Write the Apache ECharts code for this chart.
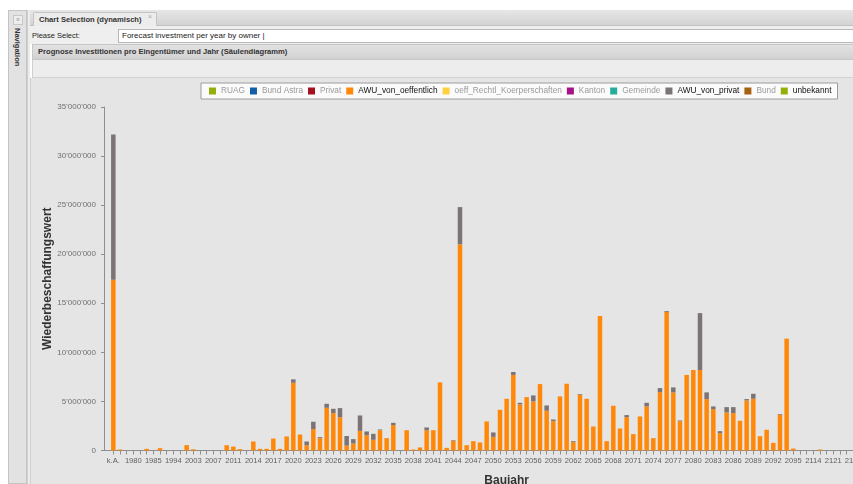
<!DOCTYPE html>
<html><head><meta charset="utf-8">
<script src="https://cdn.jsdelivr.net/npm/echarts@6/dist/echarts.min.js"></script>
<style>
html,body{margin:0;padding:0;width:853px;height:484px;overflow:hidden;background:#fff;font-family:'Liberation Sans',Arial,sans-serif;}
.a{position:absolute;box-sizing:border-box;}
#nav{left:8px;top:10px;width:19px;height:474px;background:#e2e2e2;border:1px solid #c4c4c4;}
#navbtn{left:13px;top:15px;width:10px;height:10px;background:#ededed;border:1px solid #c8c8c8;font-size:7px;line-height:8px;color:#999;text-align:center;}
#navtxt{left:13px;top:28px;writing-mode:vertical-rl;font-size:7.5px;font-weight:bold;color:#333;}
#split{left:27px;top:10px;width:3px;height:474px;background:#ececec;border-left:1px solid #cfcfcf;}
#tabbar{left:30px;top:10px;width:823px;height:16px;background:linear-gradient(#e6e6e6,#d3d3d3);border-bottom:1px solid #c0c0c0;}
#tab{left:33px;top:12px;width:124px;height:14px;background:#ececec;border:1px solid #c4c4c4;border-bottom:none;border-radius:2px 2px 0 0;font-size:7.6px;font-weight:bold;color:#333;line-height:13px;padding-left:5px;}
#tabx{left:148px;top:13px;font-size:7px;color:#aaa;}
#form{left:30px;top:26px;width:823px;height:18px;background:#efefef;}
#lbl{left:32px;top:31px;font-size:7.5px;color:#222;}
#inp{left:118px;top:29px;width:745px;height:14px;background:#fff;border:1px solid #b8b8b8;font-size:8px;color:#222;line-height:12px;padding-left:3px;}
#hdr{left:32px;top:44px;width:823px;height:16px;background:linear-gradient(#e2e2e2,#d2d2d2);border:1px solid #c6c6c6;font-size:7.6px;font-weight:bold;color:#333;line-height:14px;padding-left:5px;}
#tb{left:32px;top:60px;width:823px;height:18px;background:#ededed;border-bottom:1px solid #d2d2d2;border-left:1px solid #d0d0d0;}
#body{left:30px;top:78px;width:823px;height:406px;background:#e5e5e5;border-left:1px solid #cfcfcf;}
#chart{position:absolute;left:0;top:0;width:853px;height:484px;}
</style></head>
<body>
<div class="a" id="nav"></div>
<div class="a" id="navbtn">»</div>
<div class="a" id="navtxt">Navigation</div>
<div class="a" id="split"></div>
<div class="a" id="tabbar"></div>
<div class="a" id="tab">Chart Selection (dynamisch)</div>
<div class="a" id="tabx">×</div>
<div class="a" id="form"></div>
<div class="a" id="lbl">Please Select:</div>
<div class="a" id="inp">Forecast investment per year by owner |</div>
<div class="a" id="hdr">Prognose Investitionen pro Eingentümer und Jahr (Säulendiagramm)</div>
<div class="a" id="tb"></div>
<div class="a" id="body"></div>
<div id="chart"></div>
<script>
const categories = ['k.A.','1970','1975','1980','1982','1983','1985','1988','1990','1994',
 '1998','2000','2003','2004','2005','2007','2009','2010','2011','2012',
 '2013','2014','2015','2016','2017','2018','2019','2020','2021','2022',
 '2023','2024','2025','2026','2027','2028','2029','2030','2031','2032',
 '2033','2034','2035','2036','2037','2038','2039','2040','2041','2042',
 '2043','2044','2045','2046','2047','2048','2049','2050','2051','2052',
 '2053','2054','2055','2056','2057','2058','2059','2060','2061','2062',
 '2063','2064','2065','2066','2067','2068','2069','2070','2071','2072',
 '2073','2074','2075','2076','2077','2078','2079','2080','2081','2082',
 '2083','2084','2085','2086','2087','2088','2089','2090','2091','2092',
 '2093','2094','2095','2100','2110','2114','2115','2118','2121','2122',
 '2123','2125','2126','2128','2130','2132','2135','2140','2150'];

// values in millions CHF
const awuOeffentlichMio = [17.4,0.1,0,0,0,0.17,0,0.24,0,0,
 0,0.55,0.12,0,0,0,0,0.54,0.4,0.14,
 0,0.92,0.17,0.17,1.22,0.17,1.43,6.9,1.63,0.54,
 2.18,1.26,4.35,3.81,3.4,0.5,0.71,2.0,1.56,1.09,
 2.07,1.26,2.59,0,2.07,0.1,0.31,2.07,2.07,6.94,
 0.27,0.99,21.0,0.54,0.95,0.82,2.96,1.39,4.15,5.27,
 7.7,4.69,5.44,5.0,6.77,4.05,2.99,5.51,6.8,0.85,
 5.68,5.27,2.45,13.7,0.95,4.56,2.24,3.4,1.67,3.47,
 4.49,1.26,5.95,14.1,5.92,2.99,7.7,8.2,8.2,5.24,
 4.22,1.77,3.88,3.81,3.03,5.1,5.27,1.46,2.11,0.78,
 3.64,11.4,0.2,0,0,0,0.1,0,0,0,
 0,0,0,0,0,0,0,0,0];
const awuPrivatMio = [14.8,0,0,0,0,0,0,0,0,0,
 0,0,0,0,0,0,0,0,0,0,
 0,0,0,0,0,0,0,0.35,0,0.38,
 0.75,0.1,0.41,0.44,0.92,0.98,0.45,1.57,0.38,0.61,
 0.07,0,0.23,0,0,0,0,0.28,0,0,
 0,0.06,3.8,0,0,0,0,0.45,0,0,
 0.3,0.17,0,0.61,0,0.54,0.17,0,0,0.1,
 0.07,0,0,0,0,0,0,0.21,0,0,
 0.37,0,0.41,0.1,0.51,0.07,0,0,5.8,0.68,
 0.27,0.2,0.54,0.61,0,0.14,0.51,0,0,0,
 0.07,0,0,0,0,0,0,0,0,0,
 0,0,0,0,0,0,0,0,0];

const seriesNames = ['RUAG','Bund Astra','Privat','AWU_von_oeffentlich','oeff_Rechtl_Koerperschaften','Kanton','Gemeinde','AWU_von_privat','Bund','unbekannt'];
const seriesColors = ['#94ae0a','#115fa6','#a61120','#ff8809','#ffd13e','#a61187','#24ad9a','#7c7474','#a66111','#94ae0a'];
const activeNames = ['AWU_von_oeffentlich','AWU_von_privat','unbekannt'];
const yMax = 35000000, yStep = 5000000;

const dataByName = {
  'AWU_von_oeffentlich': awuOeffentlichMio.map(v => v * 1e6),
  'AWU_von_privat': awuPrivatMio.map(v => v * 1e6)
};

function fmt(v){ return String(Math.round(v)).replace(/\B(?=(\d{3})+(?!\d))/g, "'"); }

const chart = echarts.init(document.getElementById('chart'), null, {renderer:'canvas'});
const axisColor = '#8e8e8e';
chart.setOption({
  backgroundColor: 'transparent',
  animation: false,
  color: seriesColors,
  textStyle: {fontFamily: 'Liberation Sans, Arial, sans-serif'},
  legend: {
    left: 201, top: 83,
    orient: 'horizontal',
    icon: 'rect', itemWidth: 7, itemHeight: 7, itemGap: 5,
    padding: [4, 6, 4, 8],
    backgroundColor: '#fbfbfb', borderColor: '#9c9c9c', borderWidth: 1,
    selectedMode: false,
    textStyle: {fontSize: 8.3, color: '#9a9a9a'},
    data: seriesNames.map(n => ({name: n, textStyle: {color: activeNames.includes(n) ? '#111' : '#9a9a9a'}}))
  },
  grid: {left: 110, top: 107, width: 793.3, height: 343.5, containLabel: false, outerBoundsMode: 'none'},
  xAxis: {
    type: 'category', data: categories,
    axisLine: {show: true, lineStyle: {color: axisColor}},
    axisTick: {show: true, alignWithLabel: true, interval: 0, length: 4, lineStyle: {color: axisColor}},
    axisLabel: {interval: 2, fontSize: 7.6, color: '#5e5e5e', margin: 6},
    splitLine: {show: false},
    name: 'Baujahr', nameLocation: 'middle', nameGap: 24, nameMoveOverlap: false,
    nameTextStyle: {fontSize: 12, fontWeight: 'bold', color: '#333'}
  },
  yAxis: {
    type: 'value', min: 0, max: yMax, interval: yStep, offset: 6,
    axisLine: {show: true, lineStyle: {color: axisColor}},
    axisTick: {show: true, length: 3, lineStyle: {color: axisColor}},
    axisLabel: {fontSize: 8, color: '#707070', margin: 8, formatter: fmt},
    splitLine: {show: false},
    name: 'Wiederbeschaffungswert', nameLocation: 'middle', nameGap: 50, nameMoveOverlap: false,
    nameTextStyle: {fontSize: 12, fontWeight: 'bold', color: '#333'}
  },
  graphic: [{type: 'line', silent: true, shape: {x1: 104, y1: 450.5, x2: 110, y2: 450.5}, style: {stroke: axisColor, lineWidth: 1}}],
  series: seriesNames.map((n, i) => ({
    name: n, type: 'bar', stack: 'total', barWidth: 4.5,
    itemStyle: {color: seriesColors[i]},
    data: dataByName[n] || []
  }))
});
</script>
</body></html>
